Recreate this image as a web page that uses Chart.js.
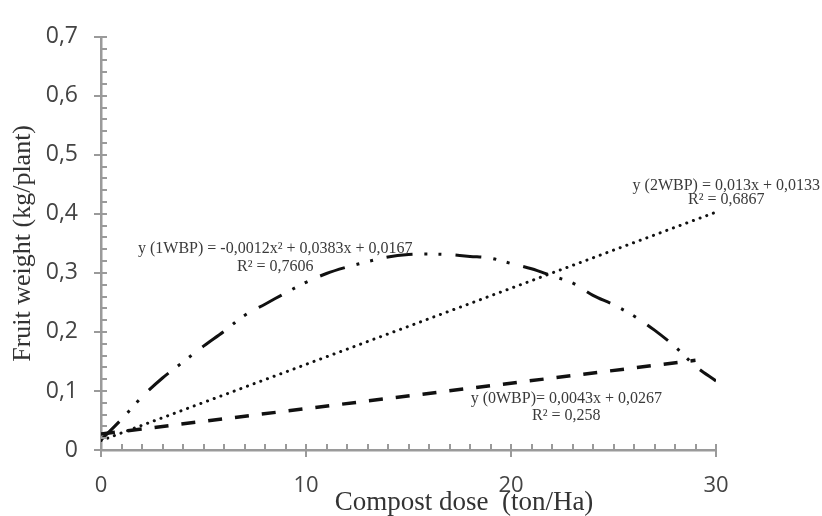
<!DOCTYPE html>
<html>
<head>
<meta charset="utf-8">
<script src="https://cdn.jsdelivr.net/npm/chart.js@4.4.1/dist/chart.umd.min.js"></script>
<style>
  html, body { margin: 0; padding: 0; background: #fff; }
  #wrap { width: 822px; height: 516px; }
</style>
</head>
<body>
<div id="wrap"><canvas id="fruit-chart"></canvas></div>
<script>
// values
const dose1WBP = [0, 1, 2, 3, 4, 5, 6, 7, 8, 9, 10, 11, 12, 13, 14, 15, 16, 17, 18, 19, 20, 21, 22, 23, 24, 25, 26, 27, 28, 29, 30];
const weight1WBP = [0.017, 0.052, 0.09, 0.122, 0.149, 0.176, 0.201, 0.228, 0.247, 0.266, 0.284, 0.299, 0.31, 0.319, 0.327, 0.331, 0.332, 0.331, 0.328, 0.325, 0.316, 0.307, 0.295, 0.283, 0.262, 0.246, 0.227, 0.203, 0.175, 0.142, 0.117];
const dose2WBP = [0, 30];
const weight2WBP = [0.016, 0.403];
const dose0WBP = [0, 29];
const weight0WBP = [0.027, 0.152];

const xTicks = [0, 10, 20, 30];
const yTicks = [0, 0.1, 0.2, 0.3, 0.4, 0.5, 0.6, 0.7];

const xTitle = "Compost dose  (ton/Ha)";
const yTitle = "Fruit weight (kg/plant)";

// equation labels, anchored in data units
const eqLabels = [
  { text: "y (1WBP) = -0,0012x² + 0,0383x + 0,0167", x: 8.5, y: 0.341 },
  { text: "R² = 0,7606", x: 8.5, y: 0.31 },
  { text: "y (2WBP) = 0,013x + 0,0133", x: 30.5, y: 0.447 },
  { text: "R² = 0,6867", x: 30.5, y: 0.424 },
  { text: "y (0WBP)= 0,0043x + 0,0267", x: 22.7, y: 0.086 },
  { text: "R² = 0,258", x: 22.7, y: 0.058 },
];

const toPoints = (xs, ys) => xs.map((v, i) => ({ x: v, y: ys[i] }));
const fmt = (v) => (v === 0 ? "0" : v.toFixed(1).replace(".", ","));

const axisGray = "#9a9a9a";
const serif = "'Liberation Serif', 'Times New Roman', serif";

const axisDecor = {
  id: "axisDecor",
  afterDraw(chart) {
    const { ctx, chartArea } = chart;
    const xs = chart.scales.x;
    const ys = chart.scales.y;
    ctx.save();
    ctx.strokeStyle = axisGray;
    ctx.lineWidth = 2;
    ctx.beginPath();
    for (let v = 0; v <= 30; v++) {
      const px = Math.round(xs.getPixelForValue(v));
      const major = v % 10 === 0;
      ctx.moveTo(px, chartArea.bottom - 6);
      ctx.lineTo(px, chartArea.bottom + (major ? 7 : 0));
    }
    for (let i = 0; i <= 35; i++) {
      const py = Math.round(ys.getPixelForValue(i * 0.02));
      const major = i % 5 === 0;
      ctx.moveTo(chartArea.left - (major ? 7 : 0), py);
      ctx.lineTo(chartArea.left + 6, py);
    }
    ctx.stroke();

    // axis titles
    ctx.fillStyle = "#333";
    ctx.font = "27px " + serif;
    ctx.textAlign = "center";
    ctx.textBaseline = "middle";
    ctx.fillText(xTitle, 464, 503);
    ctx.font = "26px " + serif;
    ctx.save();
    ctx.translate(23, (chartArea.top + chartArea.bottom) / 2);
    ctx.rotate(-Math.PI / 2);
    ctx.fillText(yTitle, 0, 0);
    ctx.restore();

    // trendline equations
    ctx.font = "16px " + serif;
    ctx.fillStyle = "#3a3a3a";
    for (const lab of eqLabels) {
      ctx.fillText(lab.text, xs.getPixelForValue(lab.x), ys.getPixelForValue(lab.y));
    }
    ctx.restore();
  },
};

const ctx = document.getElementById("fruit-chart").getContext("2d");

new Chart(ctx, {
  type: "line",
  data: {
    datasets: [
      {
        label: "1WBP",
        data: toPoints(dose1WBP, weight1WBP),
        borderColor: "#111",
        borderWidth: 3,
        borderDash: [26, 12, 3, 11, 3, 14],
        borderCapStyle: "butt",
        pointRadius: 0,
        tension: 0.35,
        fill: false,
      },
      {
        label: "2WBP",
        data: toPoints(dose2WBP, weight2WBP),
        borderColor: "#111",
        borderWidth: 3,
        borderDash: [0.1, 7],
        borderCapStyle: "round",
        pointRadius: 0,
        fill: false,
      },
      {
        label: "0WBP",
        data: toPoints(dose0WBP, weight0WBP),
        borderColor: "#111",
        borderWidth: 3.5,
        borderDash: [14, 13],
        borderCapStyle: "butt",
        pointRadius: 0,
        fill: false,
      },
    ],
  },
  options: {
    responsive: true,
    maintainAspectRatio: false,
    animation: false,
    layout: {
      padding: { top: 27, right: 106, left: 0, bottom: 0 },
    },
    plugins: {
      legend: { display: false },
      tooltip: { enabled: false },
    },
    scales: {
      x: {
        type: "linear",
        min: 0,
        max: 30,
        afterFit: (s) => { s.height = 66; },
        afterBuildTicks: (s) => { s.ticks = xTicks.map((v) => ({ value: v })); },
        grid: { display: false, drawTicks: false },
        border: { display: true, color: axisGray, width: 2.5 },
        ticks: {
          padding: 23,
          color: "#444",
          font: { size: 22, family: "Open Sans" },
          callback: (v) => String(v),
        },
      },
      y: {
        type: "linear",
        min: 0,
        max: 0.7,
        afterFit: (s) => { s.width = 101; },
        afterBuildTicks: (s) => { s.ticks = yTicks.map((v) => ({ value: v })); },
        grid: { display: false, drawTicks: false },
        border: { display: true, color: axisGray, width: 2.5 },
        ticks: {
          padding: 23,
          color: "#444",
          font: { size: 23, family: "Open Sans" },
          callback: (v) => fmt(v),
        },
      },
    },
  },
  plugins: [axisDecor],
});
</script>
</body>
</html>
